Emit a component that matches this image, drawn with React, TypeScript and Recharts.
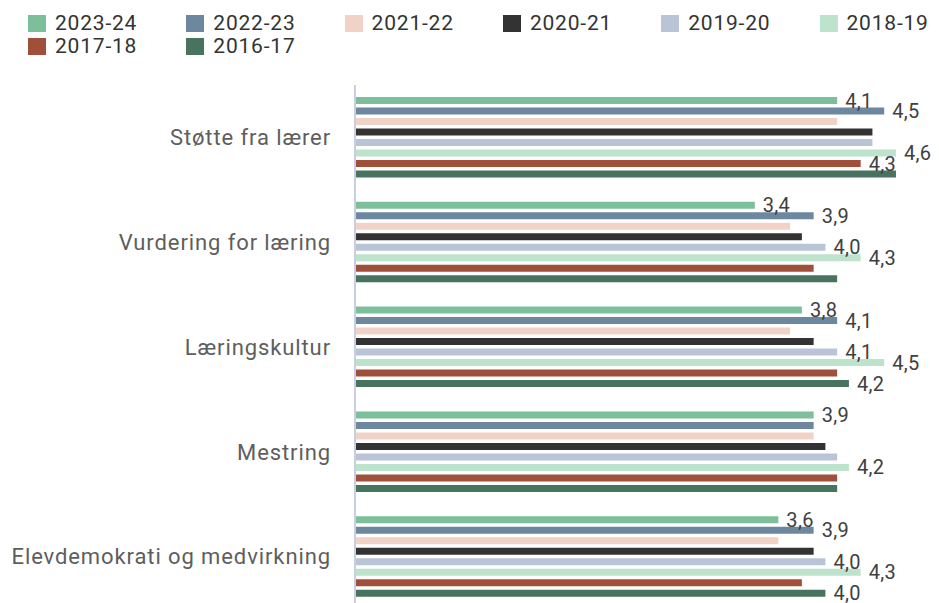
import { BarChart, Bar, XAxis, YAxis, LabelList } from "recharts";

const categories = [
  "Støtte fra lærer",
  "Vurdering for læring",
  "Læringskultur",
  "Mestring",
  "Elevdemokrati og medvirkning",
];

const years = ["2023-24", "2022-23", "2021-22", "2020-21", "2019-20", "2018-19", "2017-18", "2016-17"];

const v2023 = [4.1, 3.4, 3.8, 3.9, 3.6];
const v2022 = [4.5, 3.9, 4.1, 3.9, 3.9];
const v2021 = [4.1, 3.7, 3.7, 3.9, 3.6];
const v2020 = [4.4, 3.8, 3.9, 4.0, 3.9];
const v2019 = [4.4, 4.0, 4.1, 4.1, 4.0];
const v2018 = [4.6, 4.3, 4.5, 4.2, 4.3];
const v2017 = [4.3, 3.9, 4.1, 4.1, 3.8];
const v2016 = [4.6, 4.1, 4.2, 4.1, 4.0];

// which bars carry a value label in the original
const shown2023 = [true, true, true, true, true];
const shown2022 = [true, true, true, false, true];
const shown2021 = [false, false, false, false, false];
const shown2020 = [false, false, false, false, false];
const shown2019 = [false, true, true, false, true];
const shown2018 = [true, true, true, true, true];
const shown2017 = [true, false, false, false, false];
const shown2016 = [false, false, true, false, true];

const values = [v2023, v2022, v2021, v2020, v2019, v2018, v2017, v2016];
const shown = [shown2023, shown2022, shown2021, shown2020, shown2019, shown2018, shown2017, shown2016];

const COLORS = ["#7dbf9a", "#6c879e", "#f0d3c6", "#333333", "#bac4d7", "#bde3cd", "#a0503a", "#48735f"];

const data = categories.map((name, i) => {
  const row: Record<string, string | number> = { name };
  years.forEach((y, s) => {
    row[y] = values[s][i];
  });
  return row;
});

function ValueLabel(props: any, flags: boolean[]) {
  const { x, y, width, height, value, index } = props;
  if (!flags[index]) return null;
  return (
    <text
      x={x + width + 8}
      y={y + height / 2}
      dominantBaseline="central"
      fontSize={20}
      fontFamily="Roboto"
      letterSpacing={0.3}
      fill="#404040"
    >
      {Number(value).toFixed(1).replace(".", ",")}
    </text>
  );
}

function TopLegend() {
  return (
    <div style={{ position: "relative", height: 77, fontFamily: "Roboto", fontSize: 21, color: "#333", letterSpacing: 0.8 }}>
      {years.map((y, i) => (
        <div
          key={y}
          style={{
            position: "absolute",
            left: 20 + (i % 6) * 158.3,
            top: i < 6 ? 4 : 27,
            display: "flex",
            alignItems: "center",
            height: 22,
          }}
        >
          <span style={{ width: 18, height: 17, background: COLORS[i], display: "inline-block" }} />
          <span style={{ marginLeft: 9, lineHeight: "22px" }}>{y}</span>
        </div>
      ))}
    </div>
  );
}

export default function App() {
  return (
    <div style={{ width: 923, height: 595, overflow: "hidden", background: "#fff" }}>
      <TopLegend />
      {/* plot runs a little past the bottom/right edges, like the cropped original */}
      <BarChart
        width={923}
        height={524}
        data={data}
        layout="vertical"
        margin={{ top: 0, right: -12, bottom: 0, left: 0 }}
        barCategoryGap={12}
        barGap={3.5}
      >
        <XAxis type="number" domain={[0, 5]} hide />
        <YAxis
          type="category"
          dataKey="name"
          width={347}
          tickLine={false}
          tickMargin={18}
          axisLine={{ stroke: "#c9cee3", strokeWidth: 2 }}
          tick={{ fontSize: 22, fontFamily: "Roboto", fill: "#5e5e5e", letterSpacing: 0.9 }}
          interval={0}
        />
        {years.map((y, s) => (
          <Bar key={y} dataKey={y} fill={COLORS[s]} isAnimationActive={false}>
            <LabelList dataKey={y} content={(p: any) => ValueLabel(p, shown[s])} />
          </Bar>
        ))}
      </BarChart>
    </div>
  );
}
